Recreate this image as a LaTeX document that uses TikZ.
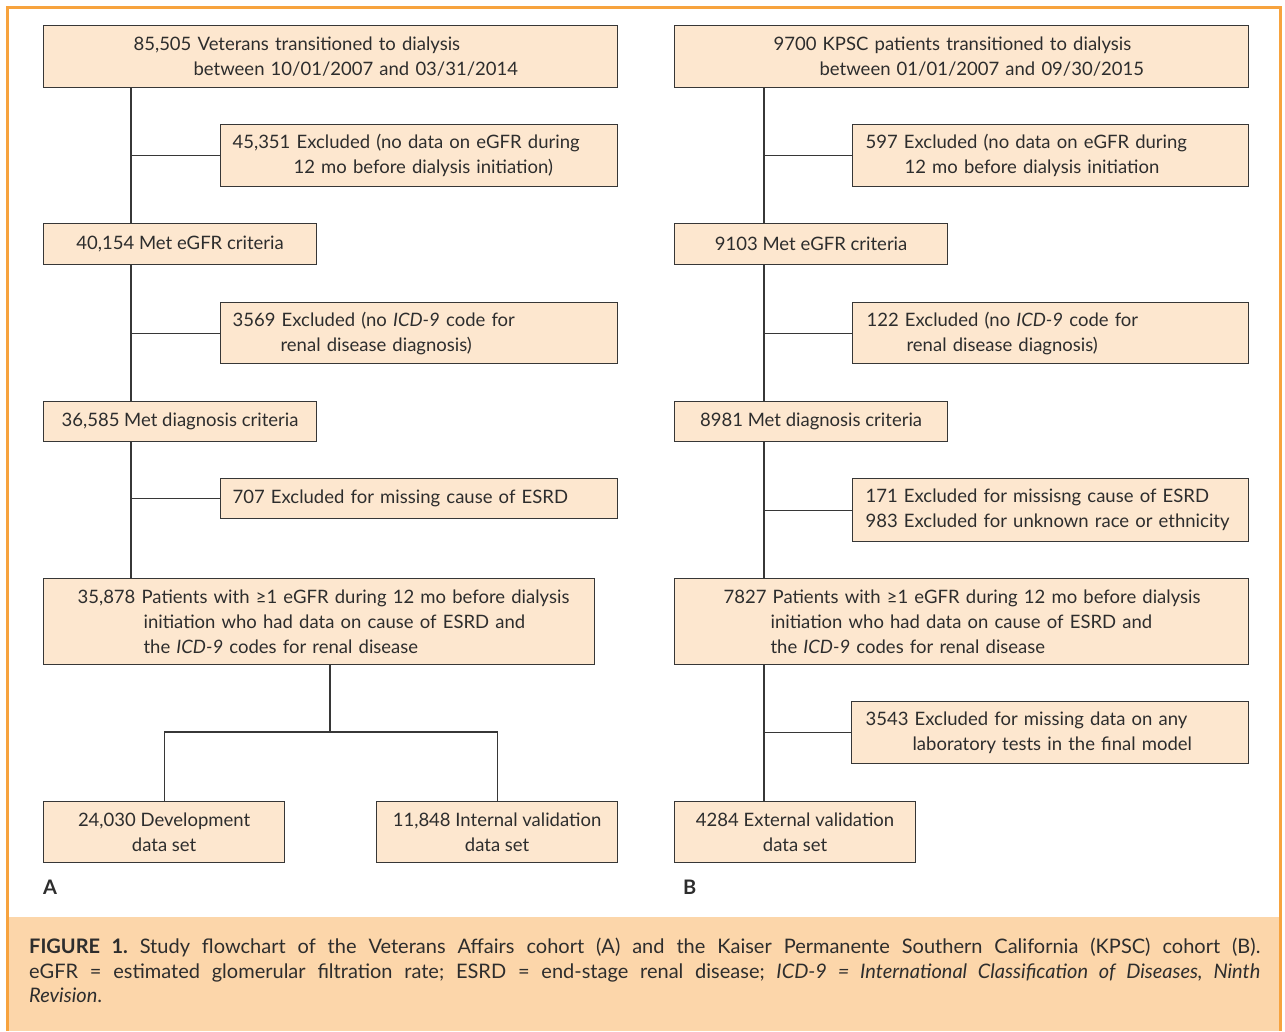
\documentclass[tikz,border=0pt]{standalone}
\usepackage{fontspec}
\setmainfont{Lato}
\frenchspacing
\definecolor{boxfill}{RGB}{253,231,207}
\definecolor{capfill}{RGB}{252,214,170}
\definecolor{frame}{RGB}{247,163,62}
\definecolor{boxline}{RGB}{55,55,55}
\definecolor{txt}{RGB}{45,45,45}
\begin{document}
\begin{tikzpicture}[x=1pt,y=-1pt,
  bx/.style={draw=boxline, fill=boxfill, line width=1.2pt, anchor=north west,
    inner ysep=0pt, text=txt, font=\fontsize{18.5}{25}\selectfont},
  lbx/.style 2 args={bx, minimum width=#1, minimum height=#2, inner xsep=0pt,
    text width=#1, align=left},
  cbx/.style 2 args={bx, minimum width=#1, minimum height=#2, inner xsep=0pt, align=center},
  ln/.style={draw=boxline, line width=1.2pt},
  panel/.style={anchor=north west, inner sep=0pt, text=txt, font=\fontsize{20}{24}\selectfont\bfseries}]
\useasboundingbox (0,0) rectangle (1285,1031);
% caption band and frame
\fill[capfill] (8.5,917) rectangle (1279,1031);
\draw[frame, line width=3pt] (7,1031) -- (7,7) -- (1280.5,7) -- (1280.5,1031);

% ---------- panel A ----------
\node[lbx={574pt}{62pt}] (A1) at (43,25)
  {\hspace*{90pt}85,505 Veterans transitioned to dialysis\\\hspace*{150pt}between 10/01/2007 and 03/31/2014};
\node[lbx={397pt}{62pt}] (A2) at (220,124)
  {\hspace*{12pt}45,351 Excluded (no data on eGFR during\\\hspace*{73pt}12 mo before dialysis initiation)};
\node[cbx={273pt}{41pt}] (A3) at (43,223) {40,154 Met eGFR criteria};
\node[lbx={397pt}{61pt}] (A4) at (220,302)
  {\hspace*{12pt}3569 Excluded (no \textit{ICD-9} code for\\\hspace*{60pt}renal disease diagnosis)};
\node[cbx={273pt}{40pt}] (A5) at (43,401) {36,585 Met diagnosis criteria};
\node[lbx={397pt}{40pt}] (A6) at (220,478)
  {\hspace*{12pt}707 Excluded for missing cause of ESRD};
\node[lbx={551pt}{86pt}] (A7) at (43,578)
  {\hspace*{34pt}35,878 Patients with ≥1 eGFR during 12 mo before dialysis\\\hspace*{100pt}initiation who had data on cause of ESRD and\\\hspace*{100pt}the \textit{ICD-9} codes for renal disease};
\node[cbx={241pt}{61pt}] (A8) at (43,801) {24,030 Development\\data set};
\node[cbx={241pt}{61pt}] (A9) at (376,801) {11,848 Internal validation\\data set};
\node[panel] (LA) at (43,880) {A};

\coordinate (sa) at (131,0);
\coordinate (ja) at (330,732);
\draw[ln] (A1.south -| sa) -- (A3.north -| sa);
\draw[ln] (A3.south -| sa) -- (A5.north -| sa);
\draw[ln] (A5.south -| sa) -- (A7.north -| sa);
\draw[ln] (A2.west) -- (A2.west -| sa);
\draw[ln] (A4.west) -- (A4.west -| sa);
\draw[ln] (A6.west) -- (A6.west -| sa);
\draw[ln] (A7.south -| ja) -- (ja);
\draw[ln] (A8.north) -- (A8.north |- ja) -- (A9.north |- ja) -- (A9.north);

% ---------- panel B ----------
\node[lbx={574pt}{62pt}] (B1) at (674,25)
  {\hspace*{99pt}9700 KPSC patients transitioned to dialysis\\\hspace*{145pt}between 01/01/2007 and 09/30/2015};
\node[lbx={396pt}{62pt}] (B2) at (852,124)
  {\hspace*{13pt}597 Excluded (no data on eGFR during\\\hspace*{52pt}12 mo before dialysis initiation};
\node[cbx={273pt}{41pt}] (B3) at (674,223) {9103 Met eGFR criteria};
\node[lbx={396pt}{61pt}] (B4) at (852,302)
  {\hspace*{14pt}122 Excluded (no \textit{ICD-9} code for\\\hspace*{54pt}renal disease diagnosis)};
\node[cbx={273pt}{40pt}] (B5) at (674,401) {8981 Met diagnosis criteria};
\node[lbx={396pt}{63pt}] (B6) at (852,478)
  {\hspace*{13pt}171 Excluded for missisng cause of ESRD\\\hspace*{13pt}983 Excluded for unknown race or ethnicity};
\node[lbx={574pt}{86pt}] (B7) at (674,578)
  {\hspace*{49pt}7827 Patients with ≥1 eGFR during 12 mo before dialysis\\\hspace*{96pt}initiation who had data on cause of ESRD and\\\hspace*{96pt}the \textit{ICD-9} codes for renal disease};
\node[lbx={397pt}{62pt}] (B8) at (851,701)
  {\hspace*{14pt}3543 Excluded for missing data on any\\\hspace*{61pt}laboratory tests in the final model};
\node[cbx={241pt}{61pt}] (B9) at (674,801) {4284 External validation\\data set};
\node[panel] (LB) at (683,880) {B};

\coordinate (sb) at (764,0);
\draw[ln] (B1.south -| sb) -- (B3.north -| sb);
\draw[ln] (B3.south -| sb) -- (B5.north -| sb);
\draw[ln] (B5.south -| sb) -- (B7.north -| sb);
\draw[ln] (B7.south -| sb) -- (B9.north -| sb);
\draw[ln] (B2.west) -- (B2.west -| sb);
\draw[ln] (B4.west) -- (B4.west -| sb);
\draw[ln] (B6.west) -- (B6.west -| sb);
\draw[ln] (B8.west) -- (B8.west -| sb);

% ---------- caption ----------
\node[anchor=north west, inner sep=0pt, text width=1231pt, align=justify, text=txt,
  font=\fontsize{20}{24.5}\selectfont] (cap) at (29,938)
  {\textbf{FIGURE 1.} Study flowchart of the Veterans Affairs cohort (A) and the Kaiser Permanente Southern California (KPSC) cohort (B).\linebreak
   eGFR = estimated glomerular filtration rate; ESRD = end-stage renal disease; \textit{ICD-9 = International Classification of Diseases, Ninth\linebreak
   Revision}.};
\end{tikzpicture}
\end{document}
